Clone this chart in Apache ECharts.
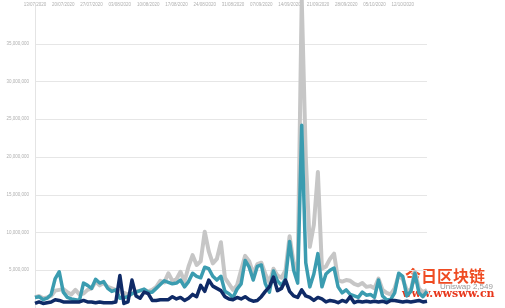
<!DOCTYPE html>
<html>
<head>
<meta charset="utf-8">
<script src="https://cdn.jsdelivr.net/npm/echarts@6/dist/echarts.min.js"></script>
<style>html,body{margin:0;padding:0;background:#fff}#c{width:505px;height:308px}</style>
</head>
<body>
<div id="c"></div>
<script>
// daily dates (weekly labels)
const startDate = [2020, 6, 13]; // 13/07/2020
const nDays = 98;
const categories = [];
for (let i = 0; i < nDays; i++) {
  const d = new Date(Date.UTC(startDate[0], startDate[1], startDate[2] + i));
  const dd = String(d.getUTCDate()).padStart(2, '0');
  const mm = String(d.getUTCMonth() + 1).padStart(2, '0');
  categories.push(dd + '/' + mm + '/' + d.getUTCFullYear());
}
// values in millions
const grayValues = [1.4,1.6,1.3,1.4,1.6,2.3,2.4,2.5,2.1,1.8,2.4,1.8,1.9,2.4,2.6,3.5,3.0,3.3,2.8,2.6,2.4,2.2,2.0,1.8,1.9,2.2,2.3,2.4,2.2,2.4,2.8,3.6,3.4,4.6,3.6,3.8,4.8,3.5,5.5,7.0,5.7,6.2,10.1,7.5,5.9,6.5,8.7,4.0,3.2,2.4,3.0,5.0,6.9,6.2,4.6,5.8,6.0,4.5,3.4,5.2,4.3,4.0,5.0,9.5,6.0,5.0,41.0,20.0,8.1,11.0,18.0,5.2,5.5,6.5,7.2,3.7,3.5,3.7,3.6,3.2,3.0,3.3,2.8,2.9,2.6,3.9,2.4,2.0,1.8,2.6,4.4,3.8,2.4,2.3,4.8,2.6,2.1,2.4];
const tealValues = [1.4,1.5,1.1,1.3,1.8,3.9,4.8,2.1,1.4,1.2,1.1,1.0,3.3,3.0,2.6,3.8,3.3,3.5,2.6,2.2,2.4,1.3,1.4,1.5,1.9,2.1,2.3,2.5,2.1,2.1,2.6,3.1,3.6,3.4,3.2,3.3,3.7,2.8,3.5,4.6,4.2,4.0,5.4,5.2,4.2,3.7,4.2,2.2,1.9,1.4,2.5,3.2,6.3,5.4,3.7,5.5,5.7,3.2,2.1,4.9,3.6,3.0,3.9,8.8,5.0,3.3,24.2,6.0,2.8,4.5,7.2,2.8,4.5,5.0,5.3,2.8,2.0,2.4,1.8,1.6,1.4,2.1,1.7,1.8,1.4,3.7,1.6,1.1,1.1,2.0,4.6,4.2,1.6,2.2,4.6,2.0,1.5,2.2];
const navyValues = [0.6,0.8,0.6,0.7,0.8,1.1,1.0,0.8,0.8,0.8,0.8,0.8,1.0,0.8,0.8,0.7,0.8,0.7,0.7,0.7,0.8,4.3,0.6,0.8,3.7,1.6,1.3,2.1,1.9,1.0,1.0,1.1,1.1,1.1,1.5,1.2,1.4,1.0,1.3,1.8,1.5,3.0,2.2,3.7,2.9,2.6,2.3,1.5,1.2,1.1,1.4,1.2,1.5,1.1,0.9,1.0,1.5,2.2,2.8,4.1,2.3,2.6,3.7,2.2,1.6,1.4,2.4,1.6,1.4,1.0,1.4,1.2,0.8,1.0,0.9,0.7,1.0,0.8,1.5,0.7,0.9,0.8,0.9,0.8,0.9,0.8,0.9,0.7,1.0,1.0,0.9,0.8,0.9,0.8,0.9,1.0,0.8,0.9];
const yTicks = [0, 5000000, 10000000, 15000000, 20000000, 25000000, 30000000, 35000000, 40000000];

const M = 1000000;
const toAbs = a => a.map(v => v * M);
const chart = echarts.init(document.getElementById('c'), null, {renderer: 'canvas'});
chart.setOption({
  animation: false,
  backgroundColor: '#ffffff',
  grid: {left: 35, right: 78, top: 6, bottom: 0, containLabel: false},
  xAxis: {
    type: 'category', data: categories, boundaryGap: false, position: 'top',
    axisLine: {show: false}, axisTick: {show: false},
    axisLabel: {interval: 6, fontSize: 4.5, color: '#b0b0b0', margin: -1.5, fontFamily: 'Liberation Sans'},
    splitLine: {show: false}
  },
  yAxis: {
    type: 'value', min: yTicks[0], max: yTicks[yTicks.length - 1], interval: 5000000,
    axisLine: {show: true, lineStyle: {color: '#e4e4e4', width: 1}},
    axisTick: {show: false},
    axisLabel: {fontSize: 4.5, color: '#b0b0b0', margin: 6, fontFamily: 'Liberation Sans',
      formatter: v => (v === 0 || v === 40000000) ? '' : v.toLocaleString('en-US')},
    splitLine: {lineStyle: {color: ['#e6e6e6','#e6e6e6','#e6e6e6','#e6e6e6','#e6e6e6','#e6e6e6','#e6e6e6','#e6e6e6','#ffffff'], width: 1}}
  },
  series: [
    {type: 'line', data: toAbs(grayValues), symbol: 'none', clip: false,
      lineStyle: {color: '#c6c6c6', width: 4, join: 'round'}},
    {type: 'line', data: toAbs(tealValues), symbol: 'none', clip: false,
      lineStyle: {color: '#3b9cb0', width: 3.5, join: 'round'}},
    {type: 'line', data: toAbs(navyValues), symbol: 'none', clip: false,
      lineStyle: {color: '#0f2a66', width: 3.5, join: 'round'}}
  ],
  graphic: [
    {type: 'text', left: 440, top: 283, style: {text: 'Uniswap 2,549', fontSize: 8, fill: '#9a9a9a', fontFamily: 'Liberation Sans'}},
    {type: 'text', left: 405, top: 268, style: {text: '今日区块链', fontSize: 16, fontWeight: 'bold', fill: '#ef4b22', fontFamily: 'Noto Sans CJK SC'}},
    {type: 'text', left: 402, top: 289, style: {text: 'www.wwsww.cn', fontSize: 11, fontWeight: 'bold', fill: '#e8361b', fontFamily: 'DejaVu Serif'}}
  ]
});
</script>
</body>
</html>
